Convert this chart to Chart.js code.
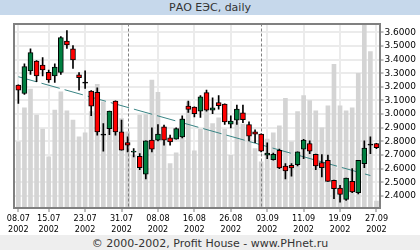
<!DOCTYPE html>
<html>
<head>
<meta charset="utf-8">
<script src="https://cdn.jsdelivr.net/npm/chart.js@4.4.1/dist/chart.umd.min.js"></script>
<style>
  html, body { margin: 0; padding: 0; background: #fff; }
  body { width: 420px; height: 250px; overflow: hidden; font-family: "DejaVu Sans", sans-serif; }
  .title { height: 15px; line-height: 15px; background: #c6d8eb; text-align: center; font-size: 11px; color: #333; }
  .chart { position: relative; width: 420px; height: 220px; }
  .footer { height: 15px; line-height: 18px; background: #eeeeee; text-align: center; font-size: 11px; color: #333; overflow: hidden; }
</style>
</head>
<body>
<div class="title">РАО ЕЭС, daily</div>
<div class="chart"><canvas id="c" width="420" height="220"></canvas></div>
<div class="footer">© 2000-2002, Profit House - www.PHnet.ru</div>
<script>
// RAO UES daily candles, Jul-Sep 2002, with volume bars and a trend line.

const YEAR = "2002";
const DATES = [
  "08.07", "09.07", "10.07", "11.07", "12.07", "15.07", "16.07", "17.07", "18.07", "19.07",
  "22.07", "23.07", "24.07", "25.07", "26.07", "29.07", "30.07", "31.07", "01.08", "02.08",
  "05.08", "06.08", "07.08", "08.08", "09.08", "12.08", "13.08", "14.08", "15.08", "16.08",
  "19.08", "20.08", "21.08", "22.08", "23.08", "26.08", "27.08", "28.08", "29.08", "30.08",
  "02.09", "03.09", "04.09", "05.09", "06.09", "09.09", "10.09", "11.09", "12.09", "13.09",
  "16.09", "17.09", "18.09", "19.09", "20.09", "23.09", "24.09", "25.09", "26.09", "27.09",
];
const TICK_DATES = ["08.07", "15.07", "23.07", "31.07", "08.08", "16.08", "26.08", "03.09", "11.09", "19.09", "27.09"];
const MONTH_STARTS = ["01.08", "02.09"];
const PRICE_TICKS = [2.4, 2.5, 2.6, 2.7, 2.8, 2.9, 3.0, 3.1, 3.2, 3.3, 3.4, 3.5, 3.6];

const OPEN = [
  3.213, 3.151, 3.316, 3.389, 3.360, 3.306, 3.279, 3.306, 3.536, 3.478,
  3.287, 3.230, 3.169, 3.159, 2.850, 2.894, 3.095, 2.870, 2.791, 2.726,
  2.691, 2.559, 2.809, 2.809, 2.907, 2.826, 2.816, 2.833, 3.059, 3.051,
  3.022, 3.157, 3.029, 3.085, 3.073, 2.926, 2.956, 3.010, 2.924, 2.870,
  2.853, 2.699, 2.666, 2.735, 2.620, 2.625, 2.630, 2.743, 2.784, 2.706,
  2.644, 2.662, 2.515, 2.458, 2.375, 2.507, 2.424, 2.637, 2.777, 2.784,
];
const HIGH = [
  3.215, 3.368, 3.478, 3.392, 3.414, 3.323, 3.368, 3.568, 3.612, 3.502,
  3.304, 3.318, 3.172, 3.193, 2.931, 3.022, 3.097, 2.956, 2.833, 2.747,
  2.710, 2.804, 2.899, 2.924, 2.919, 2.846, 2.899, 2.988, 3.095, 3.053,
  3.135, 3.176, 3.120, 3.135, 3.075, 2.988, 3.066, 3.066, 2.943, 2.885,
  2.855, 2.789, 2.715, 2.743, 2.637, 2.637, 2.723, 2.816, 2.804, 2.708,
  2.703, 2.699, 2.517, 2.478, 2.532, 2.600, 2.662, 2.804, 2.833, 2.786,
];
const LOW = [
  3.078, 3.144, 3.291, 3.237, 3.279, 3.232, 3.232, 3.291, 3.482, 3.335,
  3.176, 3.188, 2.988, 2.846, 2.728, 2.850, 2.846, 2.735, 2.723, 2.686,
  2.593, 2.526, 2.723, 2.804, 2.772, 2.772, 2.816, 2.826, 3.012, 2.980,
  2.975, 3.022, 3.004, 3.037, 2.924, 2.899, 2.924, 2.938, 2.804, 2.791,
  2.723, 2.674, 2.662, 2.600, 2.526, 2.546, 2.620, 2.674, 2.710, 2.593,
  2.539, 2.507, 2.380, 2.355, 2.368, 2.424, 2.416, 2.607, 2.710, 2.747,
];
const CLOSE = [
  3.176, 3.348, 3.451, 3.279, 3.323, 3.250, 3.345, 3.561, 3.507, 3.397,
  3.267, 3.230, 3.059, 2.870, 2.850, 3.022, 2.870, 2.735, 2.772, 2.730,
  2.607, 2.804, 2.743, 2.853, 2.809, 2.796, 2.894, 2.963, 3.034, 3.004,
  3.127, 3.029, 3.046, 3.061, 2.943, 2.949, 3.037, 2.960, 2.838, 2.853,
  2.728, 2.715, 2.706, 2.605, 2.583, 2.605, 2.723, 2.809, 2.728, 2.620,
  2.607, 2.507, 2.453, 2.412, 2.532, 2.429, 2.662, 2.752, 2.777, 2.755,
];
// volume, relative units (100 = top of the plot)
const VOLUME = [
  35.9, 54.3, 64.5, 50.4, 42.8, 27.7, 53.1, 63.0, 52.6, 47.7,
  38.6, 40.8, 52.2, 67.0, 57.6, 46.7, 49.8, 48.5, 41.3, 28.6,
  50.4, 50.7, 69.4, 62.7, 35.9, 24.1, 29.9, 48.5, 57.6, 31.0,
  42.8, 53.6, 45.8, 48.9, 42.8, 28.6, 46.7, 45.5, 38.6, 32.2,
  25.0, 37.3, 40.8, 44.6, 59.4, 35.9, 52.2, 60.9, 58.2, 52.6,
  43.5, 55.4, 77.9, 55.4, 52.6, 54.3, 73.0, 110.0, 84.8, 3.8,
];
const TREND_X = [0, 58];
const TREND_Y = [3.274, 2.550];

const UP = "#007f40";
const DOWN = "#ff0000";
const AXIS_FONT = { family: "DejaVu Sans", size: 9, lineHeight: 1.2 };
const DATE_FONT = { family: "DejaVu Sans Condensed", size: 9, lineHeight: 1.2 };

const idx = (d) => DATES.indexOf(d);

const bodies = DATES.map((_, i) => {
  const o = OPEN[i], c = CLOSE[i];
  if (Math.abs(c - o) < 0.006) return { x: i, y: [o - 0.004, o + 0.004] };
  return { x: i, y: [Math.min(o, c), Math.max(o, c)] };
});
const bodyColors = DATES.map((_, i) =>
  CLOSE[i] === OPEN[i] ? "#000" : CLOSE[i] > OPEN[i] ? UP : DOWN
);

const monthLines = {
  id: "monthLines",
  afterDatasetDraw(chart, args) {
    if (args.index !== 3) return;
    const { ctx, chartArea, scales } = chart;
    ctx.save();
    ctx.strokeStyle = "#808080";
    ctx.lineWidth = 1;
    ctx.setLineDash([3, 2]);
    for (const d of MONTH_STARTS) {
      const x = Math.round(scales.x.getPixelForValue(idx(d))) + 0.5;
      ctx.beginPath();
      ctx.moveTo(x, chartArea.top);
      ctx.lineTo(x, chartArea.bottom);
      ctx.stroke();
    }
    ctx.restore();
  },
};

const frame = {
  id: "frame",
  afterDraw(chart) {
    const { ctx, chartArea: a } = chart;
    ctx.save();
    ctx.strokeStyle = "#808080";
    ctx.lineWidth = 2;
    ctx.strokeRect(Math.round(a.left), Math.round(a.top), Math.round(a.right) - Math.round(a.left), Math.round(a.bottom) - Math.round(a.top));
    ctx.restore();
  },
};

new Chart(document.getElementById("c"), {
  type: "bar",
  data: {
    datasets: [
      {
        data: bodies,
        backgroundColor: bodyColors,
        borderColor: "#000",
        borderWidth: 1,
        borderSkipped: false,
        barThickness: 5,
        grouped: false,
        order: 0,
      },
      {
        data: DATES.map((_, i) => ({ x: i, y: [LOW[i], HIGH[i]] })),
        backgroundColor: "#000",
        borderWidth: 0,
        barThickness: 1,
        grouped: false,
        order: 1,
      },
      {
        type: "line",
        data: TREND_X.map((x, k) => ({ x, y: TREND_Y[k] })),
        borderColor: "#3a8585",
        borderWidth: 1,
        borderDash: [19, 5],
        pointRadius: 0,
        order: 2,
      },
      {
        data: DATES.map((_, i) => ({ x: i, y: VOLUME[i] })),
        backgroundColor: "#d4d4d4",
        barThickness: 4,
        grouped: false,
        yAxisID: "v",
        order: 3,
      },
    ],
  },
  options: {
    responsive: false,
    animation: false,
    devicePixelRatio: 1,
    layout: { padding: { left: 13.5, top: 8.5, right: 0, bottom: 0 } },
    plugins: { legend: { display: false }, tooltip: { enabled: false } },
    scales: {
      x: {
        type: "linear",
        offset: false,
        min: -0.8,
        max: 59.5,
        afterBuildTicks: (s) => { s.ticks = TICK_DATES.map((d) => ({ value: idx(d) })); },
        afterFit: (s) => { s.height = 27; },
        ticks: {
          callback: (v) => [DATES[v], YEAR],
          autoSkip: false,
          maxRotation: 0,
          color: "#000",
          font: DATE_FONT,
          padding: 1,
        },
        grid: { offset: false, color: "#ebebeb", lineWidth: 2, tickColor: "#808080", tickLength: 4, tickWidth: 1 },
        border: { display: false },
      },
      y: {
        type: "linear",
        position: "right",
        min: 2.312,
        max: 3.664,
        afterBuildTicks: (s) => { s.ticks = PRICE_TICKS.map((v) => ({ value: v })); },
        afterFit: (s) => { s.width = 40.5; },
        ticks: { callback: (v) => v.toFixed(4), color: "#000", font: AXIS_FONT, padding: 1 },
        grid: { color: "#ebebeb", lineWidth: 2, tickColor: "#808080", tickLength: 4, tickWidth: 1 },
        border: { display: false },
      },
      v: { display: false, min: 0, max: 100 },
    },
  },
  plugins: [monthLines, frame],
});
</script>
</body>
</html>
